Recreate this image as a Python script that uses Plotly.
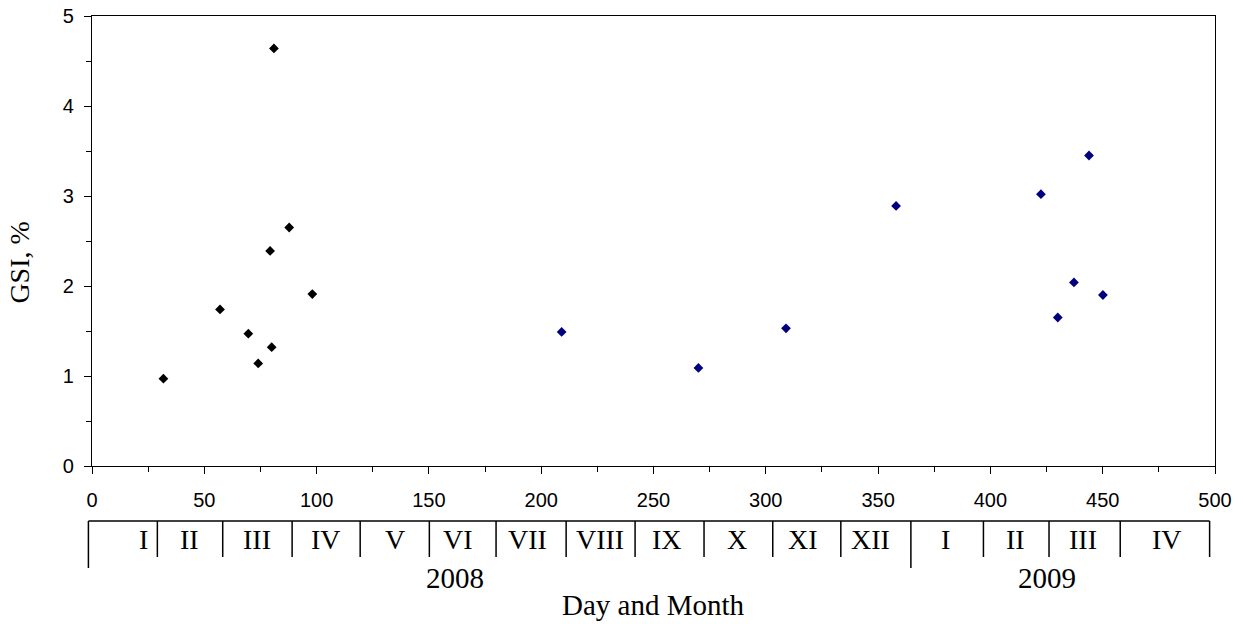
import plotly.graph_objects as go

# ---- data ----
day_2008 = [31.8, 57.0, 69.6, 74.0, 79.3, 80.0, 81.0, 87.8, 98.1]
gsi_2008 = [0.97, 1.74, 1.47, 1.14, 2.39, 1.32, 4.64, 2.65, 1.91]

day_2009 = [209.1, 270.0, 309.0, 358.0, 422.5, 430.0, 437.2, 443.9, 450.1]
gsi_2009 = [1.49, 1.09, 1.53, 2.89, 3.02, 1.65, 2.04, 3.45, 1.90]

month_labels = ["I", "II", "III", "IV", "V", "VI", "VII", "VIII", "IX", "X", "XI", "XII",
                "I", "II", "III", "IV"]
month_label_days = [22.8, 43.5, 73.5, 104.0, 134.8, 163.0, 193.9, 226.2, 256.0, 287.0,
                    316.6, 346.5, 379.9, 411.0, 441.3, 478.6]
month_bounds = [-1.6, 29.1, 58.2, 89.1, 119.4, 150.2, 179.9, 211.1, 241.8, 272.5, 303.1,
                333.4, 364.6, 396.9, 426.1, 457.8, 497.6]
year_labels = ["2008", "2009"]
year_label_days = [161.7, 425.2]
year_bounds = [-1.6, 364.6]

x_ticks = [0, 50, 100, 150, 200, 250, 300, 350, 400, 450, 500]
y_ticks = [0, 1, 2, 3, 4, 5]

XR = [0, 500]
YR = [0, 5]

SERIF = "Liberation Serif, Times New Roman, serif"
SANS = "Liberation Sans, Arial, sans-serif"

fig = go.Figure()
fig.add_trace(go.Scatter(x=day_2008, y=gsi_2008, mode="markers",
                         marker=dict(symbol="diamond", size=7.5, color="#000000"),
                         showlegend=False, cliponaxis=False))
fig.add_trace(go.Scatter(x=day_2009, y=gsi_2009, mode="markers",
                         marker=dict(symbol="diamond", size=7.5, color="#000080"),
                         showlegend=False, cliponaxis=False))


def xpaper(d):
    return (d - XR[0]) / (XR[1] - XR[0])


# month bracket row (below the axis)
Y_TOP = -0.1222
Y_SHORT = -0.2022
Y_LONG = -0.2267
shapes = []
shapes.append(dict(type="line", xref="paper", yref="paper",
                   x0=xpaper(month_bounds[0]), x1=xpaper(month_bounds[-1]),
                   y0=Y_TOP, y1=Y_TOP, line=dict(color="black", width=1.5)))
for b in month_bounds:
    yb = Y_LONG if b in year_bounds else Y_SHORT
    shapes.append(dict(type="line", xref="paper", yref="paper",
                       x0=xpaper(b), x1=xpaper(b), y0=Y_TOP, y1=yb,
                       line=dict(color="black", width=1.5)))

annotations = []
for lab, d in zip(month_labels, month_label_days):
    annotations.append(dict(text=lab, x=d, xref="x", y=-0.1644, yref="paper",
                            showarrow=False, xanchor="center", yanchor="middle",
                            font=dict(family=SERIF, size=28, color="black")))
for lab, d in zip(year_labels, year_label_days):
    annotations.append(dict(text=lab, x=d, xref="x", y=-0.2489, yref="paper",
                            showarrow=False, xanchor="center", yanchor="middle",
                            font=dict(family=SERIF, size=29, color="black")))
annotations.append(dict(text="Day and Month", x=0.5, xref="paper", y=-0.3089, yref="paper",
                        showarrow=False, xanchor="center", yanchor="middle",
                        font=dict(family=SERIF, size=29, color="black")))
annotations.append(dict(text="GSI, %", x=0, xref="paper", xshift=-72, y=0.452, yref="paper",
                        textangle=-90, showarrow=False, xanchor="center", yanchor="middle",
                        font=dict(family=SERIF, size=28, color="black")))

fig.update_layout(
    width=1243, height=624,
    margin=dict(l=92, r=28, t=16, b=158, autoexpand=False),
    paper_bgcolor="white", plot_bgcolor="white",
    shapes=shapes, annotations=annotations,
    xaxis=dict(range=XR, tickvals=x_ticks, ticks="outside", ticklen=7, tickwidth=1,
               tickcolor="black", showline=True, linecolor="black", linewidth=1.3,
               mirror=True, showgrid=False, zeroline=False, automargin=False,
               ticklabeloverflow="allow",
               tickfont=dict(family=SANS, size=20, color="black"), ticklabelstandoff=9,
               minor=dict(dtick=25, ticks="outside", ticklen=5, tickcolor="black", tickwidth=1,
                          showgrid=False)),
    yaxis=dict(range=YR, tickvals=y_ticks, ticks="outside", ticklen=7, tickwidth=1,
               tickcolor="black", showline=True, linecolor="black", linewidth=1.3,
               mirror=True, showgrid=False, zeroline=False, automargin=False,
               ticklabeloverflow="allow",
               tickfont=dict(family=SANS, size=20, color="black"), ticklabelstandoff=6,
               minor=dict(dtick=0.5, ticks="outside", ticklen=5, tickcolor="black", tickwidth=1,
                          showgrid=False)),
)

fig.write_html("out.html",
               config={"displayModeBar": False},
               post_script="document.body.style.margin='0px';document.body.style.overflow='hidden';")
